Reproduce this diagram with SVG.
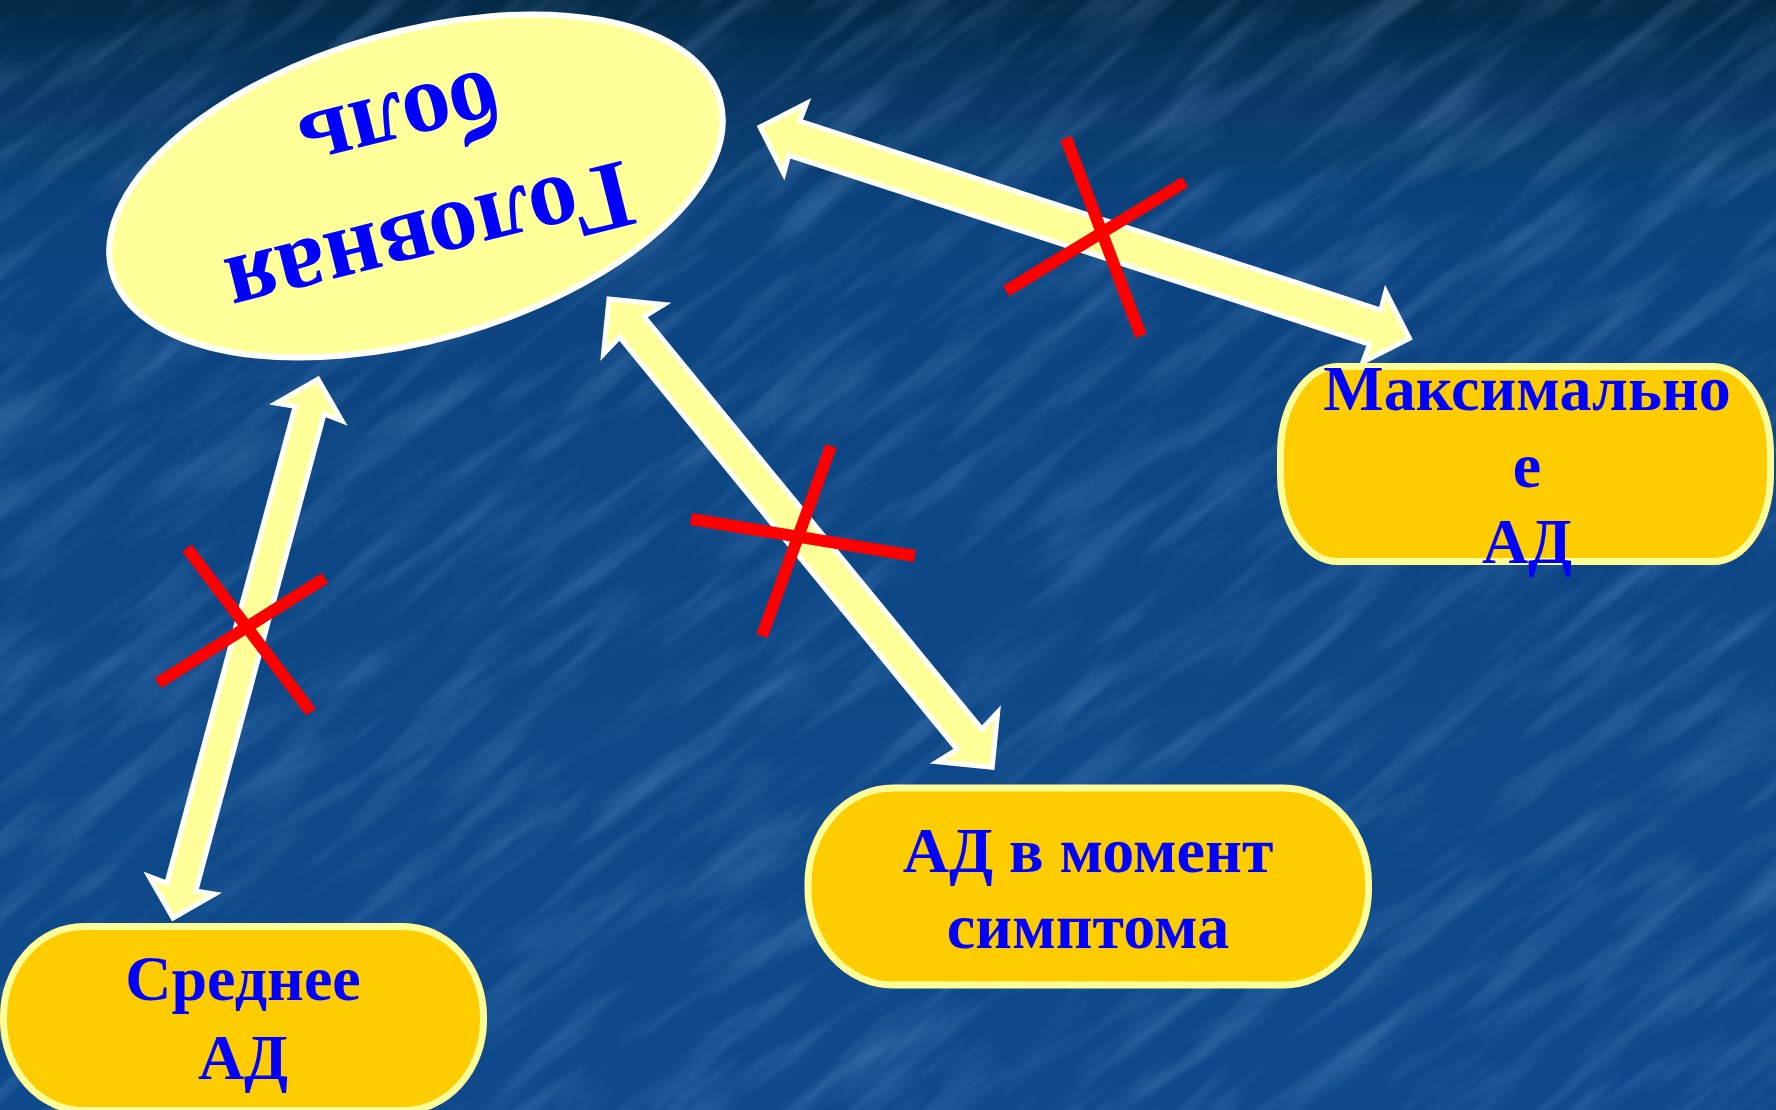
<svg xmlns="http://www.w3.org/2000/svg" width="1776" height="1110" viewBox="0 0 1776 1110">
  <defs>
    <linearGradient id="bg" x1="0" y1="0" x2="0" y2="1">
      <stop offset="0" stop-color="#042846"/>
      <stop offset="0.04" stop-color="#063056"/>
      <stop offset="0.1" stop-color="#093A6A"/>
      <stop offset="0.2" stop-color="#0C4480"/>
      <stop offset="1" stop-color="#0E4A8C"/>
    </linearGradient>
    <filter id="tex" x="0" y="0" width="100%" height="100%" filterUnits="objectBoundingBox">
      <feTurbulence type="fractalNoise" baseFrequency="0.006 0.04" numOctaves="3" seed="7"/>
      <feColorMatrix type="matrix" values="0 0 0 0 0.3  0 0 0 0 0.55  0 0 0 0 0.9  0 0 0 1.4 -0.62"/>
    </filter>
    <style>
      .arrow { fill: #FFFF99; stroke: #FFFFFF; stroke-width: 5; stroke-linejoin: miter; }
      .cross { stroke: #FF0000; stroke-width: 12; stroke-linecap: butt; fill: none; }
      .box { fill: #FFCC00; stroke: #FFFF99; stroke-width: 7; }
      .lbl { font-family: "Liberation Serif", "Times New Roman", serif; font-weight: bold; fill: #0000FF; text-anchor: middle; }
    </style>
  </defs>

  <!-- background -->
  <rect x="0" y="0" width="1776" height="1110" fill="url(#bg)"/>
  <g transform="rotate(-38 888 555)" opacity="0.35">
    <rect x="-600" y="-700" width="3000" height="2500" filter="url(#tex)"/>
  </g>

  <!-- connectors -->
  <g id="connectors">
    <path class="arrow" transform="translate(760 127) rotate(18.02)" d="M0,0 L37,-37 L36,-18 L647,-18 L646,-37 L683,0 L646,37 L647,18 L36,18 L37,37 Z"/>
    <path class="arrow" transform="translate(609 299) rotate(50.7)" d="M0,0 L39,-39 L36,-16 L569,-16 L566,-39 L605,0 L566,39 L569,16 L36,16 L39,39 Z"/>
    <path class="arrow" transform="translate(173 918) rotate(-74.94)" d="M0,0 L34,-34 L32,-15 L526,-15 L524,-34 L558,0 L524,34 L526,15 L32,15 L34,34 Z"/>
    <g id="cross-a">
      <line class="cross" x1="1066" y1="138" x2="1141" y2="336"/>
      <line class="cross" x1="1006" y1="291" x2="1185" y2="182"/>
    </g>
    <g id="cross-b">
      <line class="cross" x1="831" y1="446" x2="762" y2="636"/>
      <line class="cross" x1="691" y1="519" x2="915" y2="556"/>
    </g>
    <g id="cross-c">
      <line class="cross" x1="187" y1="548" x2="311" y2="712"/>
      <line class="cross" x1="158" y1="683" x2="325" y2="578"/>
    </g>
  </g>

  <!-- nodes -->
  <g id="node-headache">
    <ellipse cx="416" cy="186" rx="316" ry="154" transform="rotate(-15.9 416 186)" fill="#FFFF99" stroke="#FFFFFF" stroke-width="6"/>
    <g transform="translate(416 186) rotate(166)">
      <text class="lbl" x="0" y="-25" font-size="98">Головная</text>
      <text class="lbl" x="0" y="96" font-size="98">боль</text>
    </g>
  </g>

  <g id="node-max">
    <rect class="box" x="1280.5" y="366.5" width="490" height="195" rx="57" ry="87"/>
    <text class="lbl" x="1527" y="410" font-size="64">Максимально</text>
    <text class="lbl" x="1527" y="487" font-size="64">е</text>
    <text class="lbl" x="1527" y="563" font-size="64">АД</text>
  </g>

  <g id="node-moment">
    <rect class="box" x="808" y="788" width="560.5" height="197" rx="85" ry="95"/>
    <text class="lbl" x="1088" y="872" font-size="64">АД в момент</text>
    <text class="lbl" x="1088" y="948" font-size="64">симптома</text>
  </g>

  <g id="node-mean">
    <rect class="box" x="3.5" y="926.5" width="480" height="184" rx="80" ry="90"/>
    <text class="lbl" x="243" y="1000" font-size="64">Среднее</text>
    <text class="lbl" x="243" y="1079" font-size="64">АД</text>
  </g>
</svg>
